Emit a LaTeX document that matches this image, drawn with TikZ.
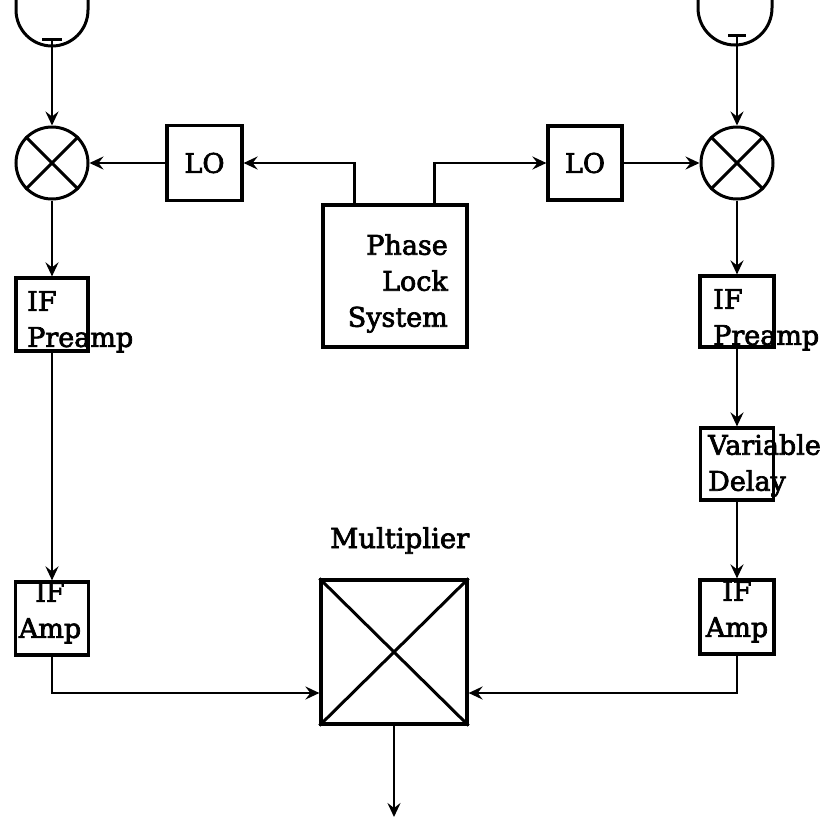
\documentclass[tikz,border=0pt]{standalone}
\usepackage{fontspec}
\setmainfont{DejaVu Serif}
\newcommand\heavyink{\special{pdf:literal direct 2 Tr 0.7 w}}
\usetikzlibrary{arrows.meta,calc}
\begin{document}
\begin{tikzpicture}[x=1pt,y=-1pt,
  font=\fontsize{27}{36}\selectfont\heavyink,
  blk/.style={draw,line width=3.2pt,rectangle,inner sep=0pt},
  mix/.style={draw,line width=3pt,circle,inner sep=0pt,minimum size=72pt},
  thick line/.style={line width=3pt},
  wire/.style={line width=2.4pt},
  arr/.style={wire,-{Stealth[length=14pt,width=13pt,inset=5pt]}},
  lbl/.style={inner sep=0pt}
]
\useasboundingbox[fill=white] (0,0) rectangle (835,817);

% dishes and feeds
\coordinate (dishLtop) at (16,-2);
\coordinate (dishRtop) at (698,-2);
\coordinate (feedL) at (52,39);
\coordinate (feedR) at (737,35);
\draw[thick line] (dishLtop) -- ++(0,12) arc[start angle=180,end angle=360,radius=36pt] -- ++(0,-12);
\draw[thick line] (dishRtop) -- ++(0,10) arc[start angle=180,end angle=360,radius=37pt] -- ++(0,-10);
\draw[thick line] ($(feedL)+(-10,0)$) -- ($(feedL)+(10,0)$);
\draw[thick line] ($(feedR)+(-9,0)$) -- ($(feedR)+(9,0)$);

% mixers
\node[mix] (mixL) at (52,163) {};
\node[mix] (mixR) at (737,163) {};
\draw[thick line] (mixL.45) -- (mixL.225) (mixL.135) -- (mixL.315);
\draw[thick line] (mixR.45) -- (mixR.225) (mixR.135) -- (mixR.315);

% boxes
\node[blk,minimum width=75pt,minimum height=75pt] (loL) at (204.5,163) {LO};
\node[blk,minimum width=74pt,minimum height=74pt] (loR) at (585,163) {LO};
\node[blk,minimum width=144pt,minimum height=142pt] (pls) at (395,276) {};
\node[blk,minimum width=72pt,minimum height=73pt] (preL) at (52,314.5) {};
\node[blk,minimum width=74pt,minimum height=71pt] (preR) at (737,311.5) {};
\node[blk,minimum width=73pt,minimum height=72pt] (vd) at (737,464) {};
\node[blk,minimum width=73pt,minimum height=73pt] (ampL) at (52,618.5) {};
\node[blk,minimum width=74pt,minimum height=74pt] (ampR) at (737,617) {};
\node[blk,minimum width=146pt,minimum height=144pt] (mult) at (394,652) {};
\draw[thick line] (mult.north west) -- (mult.south east) (mult.north east) -- (mult.south west);

% labels
\node[lbl,align=right,anchor=north east] (plsT) at (448,234) {Phase\\Lock\\System};
\node[lbl,align=left,anchor=north west] (preLT) at (27,291) {IF\\Preamp};
\node[lbl,align=left,anchor=north west] (preRT) at (713,289) {IF\\Preamp};
\node[lbl,align=left,anchor=north west] (vdT) at (708,434) {Variable\\Delay};
\node[lbl,align=center,anchor=north] (ampLT) at (50,582) {IF\\Amp};
\node[lbl,align=center,anchor=north] (ampRT) at (737,581) {IF\\Amp};
\node[lbl,anchor=base west,font=\fontsize{27.5}{30}\selectfont\heavyink] (multT) at (330,548) {Multiplier};

% connectors
\coordinate (out) at (394,817);
\draw[arr] (feedL) -- (mixL.north);
\draw[arr] (feedR) -- (mixR.north);
\draw[arr] (loL.west) -- (mixL.east);
\draw[arr] (loR.east) -- (mixR.west);
\draw[arr] ([xshift=33pt]pls.north west) |- (loL.east);
\draw[arr] ([xshift=-34pt]pls.north east) |- (loR.west);
\draw[arr] (mixL.south) -- (preL.north);
\draw[arr] (mixR.south) -- (preR.north);
\draw[arr] (preL.south) -- (ampL.north);
\draw[arr] (preR.south) -- (vd.north);
\draw[arr] (vd.south) -- (ampR.north);
\draw[arr] (ampL.south) |- ([yshift=-41pt]mult.west);
\draw[arr] (ampR.south) |- ([yshift=-41pt]mult.east);
\draw[arr] (mult.south) -- (out);
\end{tikzpicture}
\end{document}
